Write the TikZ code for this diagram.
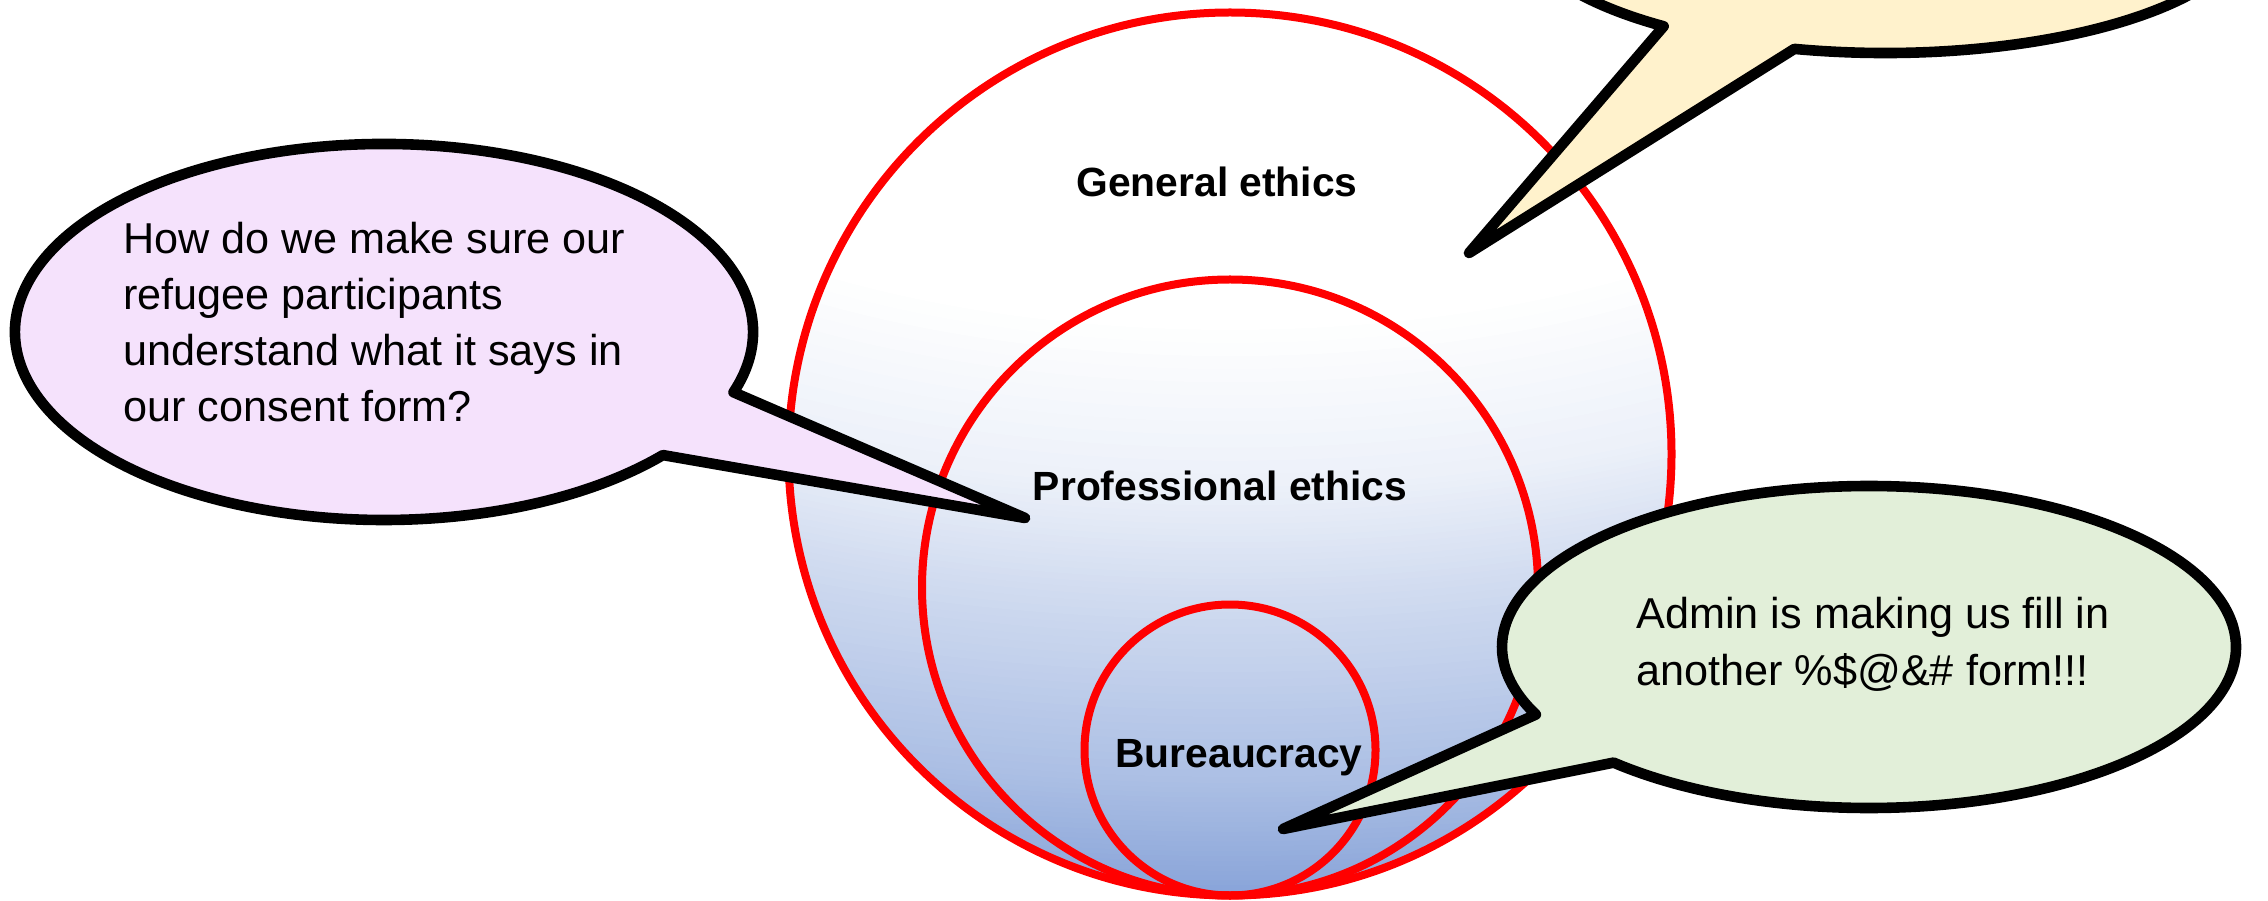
\documentclass[tikz,border=0pt]{standalone}
\usepackage{fontspec}
\setmainfont{Liberation Sans}
\definecolor{ringred}{RGB}{255,0,0}
\definecolor{gblue}{RGB}{134,162,216}
\definecolor{pinkfill}{RGB}{245,226,252}
\definecolor{greenfill}{RGB}{226,239,217}
\definecolor{yellowfill}{RGB}{255,242,204}
\tikzset{
  ring/.style={draw=ringred, line width=4pt},
  bubble/.style={draw=black, line width=5.3pt, line join=round},
  label/.style={font=\fontsize{20.4}{24}\selectfont\bfseries, anchor=base, inner sep=0pt},
  speech/.style={font=\fontsize{21.6}{28}\selectfont, anchor=base west, inner sep=0pt}
}
\begin{document}
\begin{tikzpicture}[x=0.5pt,y=0.5pt]
\useasboundingbox (0,0) rectangle (2268,900);
\clip (0,0) rectangle (2268,900);
\fill[white] (0,0) rectangle (2268,900);
% nested circles with a soft white-to-blue glow
\begin{scope}
  \clip (1230,446) circle (441.5);
  \foreach \k in {0,...,80}{
    \pgfmathsetmacro{\ff}{1-\k/80}
    \pgfmathsetmacro{\yb}{\ff<=0.15 ? 330+\ff/0.15*157 : (\ff<=0.38 ? 487+(\ff-0.15)/0.23*113 : (\ff<=0.68 ? 600+(\ff-0.38)/0.3*180 : 780+(\ff-0.68)/0.32*125))}
    \pgfmathsetmacro{\Yb}{900-\yb}
    \pgfmathsetmacro{\Yc}{(1200+\Yb)/2}
    \pgfmathsetmacro{\bb}{(1200-\Yb)/2}
    \pgfmathsetmacro{\pc}{100*\ff}
    \fill[gblue!\pc!white] (1230,\Yc) ellipse [x radius={2.3*\bb}, y radius={\bb}];
  }
\end{scope}
\draw[ring] (1230,446) circle (441.5);
\draw[ring] (1230,312.5) circle (308);
\draw[ring] (1230,150) circle (145.5);
\node[label] (gen) at (1217,703) {General ethics};
\node[label] (prof) at (1220,399) {Professional ethics};
\node[label] (bur) at (1239,133) {Bureaucracy};
% tips of speech bubbles
\coordinate (ltip) at (1025,382);
\coordinate (gtip) at (1283,71);
\coordinate (ttip) at (1469,647);
% top-right bubble (mostly off the page)
\draw[bubble, fill=yellowfill] ([shift={(1885,979)}]255.7:367 and 132) arc[start angle=255.7, end angle=592.9, x radius=367, y radius=132] -- (ttip) -- cycle;
% left bubble
\draw[bubble, fill=pinkfill] ([shift={(384,568)}]-18.7:369 and 188) arc[start angle=-18.7, end angle=319.1, x radius=369, y radius=188] -- (ltip) -- cycle;
\node[speech] (q1) at (123,646) {How do we make sure our};
\node[speech] (q2) at (123,590) {refugee participants};
\node[speech] (q3) at (123,534) {understand what it says in};
\node[speech] (q4) at (123,478) {our consent form?};
% green bubble
\draw[bubble, fill=greenfill] ([shift={(1869,253)}]225.9:367 and 161) arc[start angle=225.9, end angle=564.8, x radius=367, y radius=161] -- (gtip) -- cycle;
\node[speech] (a1) at (1636,271) {Admin is making us fill in};
\node[speech] (a2) at (1636,215) {another \%\$@\&\# form!!!};
\end{tikzpicture}
\end{document}
